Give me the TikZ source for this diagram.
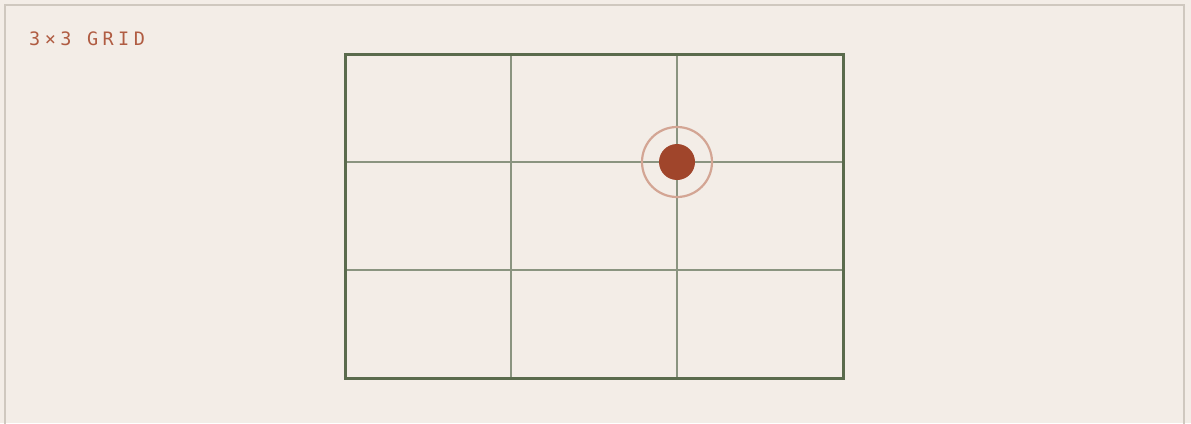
\documentclass[tikz,border=0pt]{standalone}
\usepackage{fontspec}
\newfontfamily\labelfont[LetterSpace=24]{DejaVu Sans Mono}
\definecolor{bg}{HTML}{F3EDE7}
\definecolor{frame}{HTML}{CFC8BF}
\definecolor{gridouter}{HTML}{5A6B4D}
\definecolor{gridinner}{HTML}{8A9480}
\definecolor{accent}{HTML}{A0452B}
\definecolor{ring}{HTML}{D3A594}
\definecolor{labelc}{HTML}{B05C42}
\tikzset{
  outerbox/.style={draw=gridouter, line width=3pt},
  innerline/.style={draw=gridinner, line width=1.7pt},
  dot/.style={circle, fill=accent, minimum size=36pt, inner sep=0pt},
  ringc/.style={circle, draw=ring, line width=2.2pt, minimum size=70pt, inner sep=0pt},
}
\begin{document}
\begin{tikzpicture}[x=1pt,y=-1pt]
\useasboundingbox (0,0) rectangle (1191,423);
\fill[bg] (0,0) rectangle (1191,423);
\draw[frame, line width=2pt] (5,424) -- (5,5) -- (1184,5) -- (1184,424);
\node[anchor=west, inner sep=0pt, text=labelc, font=\labelfont\fontsize{18.5}{18.5}\selectfont] (title) at (29,39) {3×3 GRID};
\coordinate (tl) at (345,54);
\coordinate (br) at (843,378);
\draw[innerline] (511,54) -- (511,378);
\draw[innerline] (677,54) -- (677,378);
\draw[innerline] (345,162) -- (843,162);
\draw[innerline] (345,270) -- (843,270);
\draw[outerbox] (tl) rectangle (br);
\node[ringc] (ring) at (677,162) {};
\node[dot] (point) at (677,162) {};
\end{tikzpicture}
\end{document}
